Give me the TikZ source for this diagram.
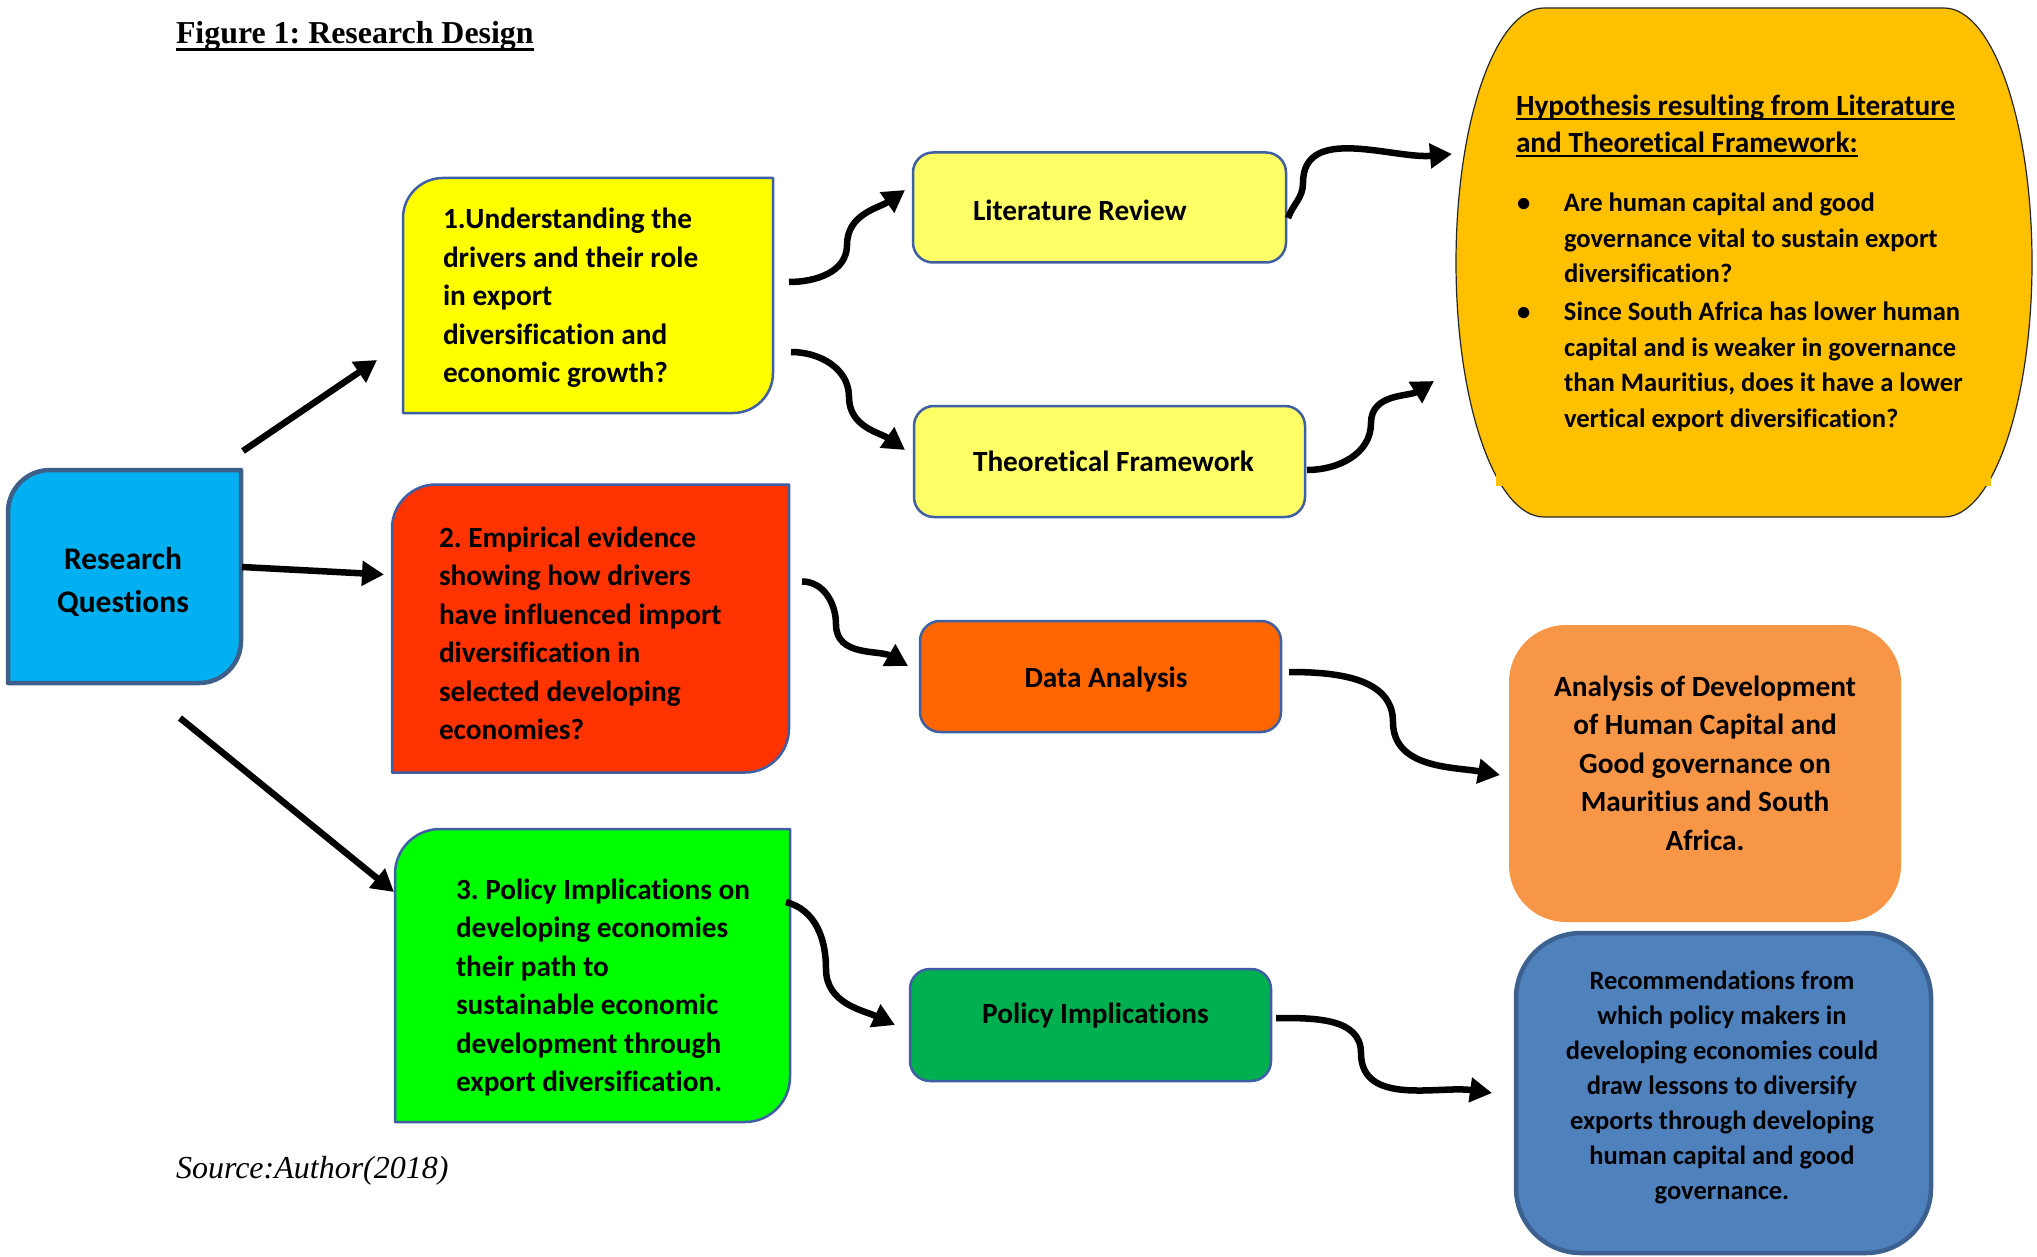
\documentclass[tikz,border=0pt]{standalone}
\usepackage{fontspec}
\setmainfont{Carlito}[Ligatures=NoCommon]
\newfontfamily\timesf{Liberation Serif}
\usetikzlibrary{arrows.meta}
\frenchspacing

\definecolor{rqblue}{HTML}{00B0F0}
\definecolor{rqline}{HTML}{3E5F8A}
\definecolor{bxline}{HTML}{3F5FA5}
\definecolor{ylw}{HTML}{FFFF00}
\definecolor{redbox}{HTML}{FF3300}
\definecolor{grn}{HTML}{00FF00}
\definecolor{lylw}{HTML}{FFFF66}
\definecolor{orng}{HTML}{FF6600}
\definecolor{dgrn}{HTML}{00B050}
\definecolor{gold}{HTML}{FFC000}
\definecolor{lorng}{HTML}{F79646}
\definecolor{steel}{HTML}{4F81BD}
\definecolor{steelline}{HTML}{3C6090}

\newcommand{\ulx}[3]{\leavevmode{\setbox0\hbox{#3}\rlap{\rule[-#1]{\wd0}{#2}}\box0}}
\newcommand{\cutbox}[3]{\path[#3] (#1.north east) -- ([xshift=#2]#1.north west) arc[start angle=90,end angle=180,radius=#2] -- (#1.south west) -- ([xshift=-#2]#1.south east) arc[start angle=270,end angle=360,radius=#2] -- cycle;}
\newcommand{\hypitem}[1]{{\fontsize{26.6}{35.5}\selectfont\hangindent=48pt\hangafter=1 \makebox[48pt][l]{\hspace{1pt}\textbullet}#1\par}}

\begin{document}
\begin{tikzpicture}[x=1pt,y=1pt,
  holder/.style={inner sep=0pt,outer sep=0pt,draw=none},
  mainfont/.style={font=\fontsize{29.3}{38.5}\selectfont\bfseries},
  smallfont/.style={font=\fontsize{26.5}{35}\selectfont\bfseries},
  txt/.style={inner sep=0pt,outer sep=0pt},
  cutline/.style={draw=bxline,line width=2.5pt,line join=round},
  rbox/.style={holder,draw=bxline,line width=2.5pt,rounded corners=20pt},
  arr/.style={line width=6.5pt,-{Triangle[width=24pt,length=22pt]}}
]
\useasboundingbox (0,0) rectangle (2037,-1257);

% ---------- box holders ----------
\node[holder,minimum width=233pt,minimum height=213pt] (rq) at (124.5,-576.5) {};
\node[holder,minimum width=370pt,minimum height=235pt] (b1) at (588,-295.5) {};
\node[holder,minimum width=397pt,minimum height=288pt] (b2) at (590.5,-628.5) {};
\node[holder,minimum width=395pt,minimum height=293pt] (b3) at (592.5,-975.5) {};
\node[holder,minimum width=576pt,minimum height=509pt] (hyp) at (1744,-262.5) {};

% ---------- cut-corner boxes ----------
\cutbox{rq}{42pt}{fill=rqblue,draw=rqline,line width=4.5pt,line join=round}
\cutbox{b1}{40pt}{fill=ylw,cutline}
\cutbox{b2}{44pt}{fill=redbox,cutline}
\cutbox{b3}{45pt}{fill=grn,cutline}

% ---------- rounded boxes ----------
\node[rbox,fill=lylw,minimum width=373pt,minimum height=110pt] (lr) at (1099.5,-207.5) {};
\node[rbox,fill=lylw,minimum width=391pt,minimum height=111pt] (tf) at (1109.5,-461.5) {};
\node[rbox,fill=orng,minimum width=361pt,minimum height=111pt] (da) at (1100.5,-676.5) {};
\node[rbox,fill=dgrn,minimum width=361pt,minimum height=112pt] (pi) at (1090.5,-1025) {};
\node[holder,fill=lorng,rounded corners=57pt,minimum width=392pt,minimum height=297pt] (an) at (1705,-773.5) {};
\node[holder,fill=steel,draw=steelline,line width=4.5pt,rounded corners=65pt,minimum width=415pt,minimum height=320pt] (rec) at (1723.5,-1093) {};

% ---------- hypothesis barrel ----------
\path[fill=gold,draw=black!85,line width=1.2pt]
  ([xshift=88pt]hyp.north west) -- ([xshift=-88pt]hyp.north east)
  arc[start angle=90,end angle=-90,x radius=88pt,y radius=254.5pt]
  -- ([xshift=88pt]hyp.south west)
  arc[start angle=270,end angle=90,x radius=88pt,y radius=254.5pt] -- cycle;
\fill[gold] (1496,-300) rectangle (1991,-486);

% ---------- texts ----------
\node[txt,anchor=base west,font=\timesf\bfseries\fontsize{31.9}{36}\selectfont] (title) at (176,-43.5)
  {\ulx{8pt}{3pt}{Figure 1: Research Design}};
\node[txt,anchor=base west,font=\timesf\itshape\fontsize{32}{36}\selectfont] (src) at (176,-1178)
  {Source:Author(2018)};

\node[txt,align=center,font=\fontsize{31.5}{43}\selectfont\bfseries] (rqt) at (123,-581.5) {Research\\Questions};
\node[txt,mainfont,anchor=west,align=left] (b1t) at (443,-298)
  {1.Understanding the\\drivers and their role\\in export\\diversification and\\economic growth?};
\node[txt,mainfont,anchor=west,align=left] (b2t) at (439,-633.5)
  {2. Empirical evidence\\showing how drivers\\have influenced import\\diversification in\\selected developing\\economies?};
\node[txt,mainfont,anchor=west,align=left] (b3t) at (456,-987.5)
  {3. Policy Implications on\\developing economies\\their path to\\sustainable economic\\development through\\export diversification.};
\node[txt,mainfont,anchor=west] (lrt) at (973,-210) {Literature Review};
\node[txt,mainfont,anchor=west] (tft) at (973,-461.5) {Theoretical Framework};
\node[txt,mainfont] (dat) at (1106,-680) {Data Analysis};
\node[txt,mainfont] (pit) at (1095.5,-1016) {Policy Implications};
\node[txt,mainfont,align=center] (ant) at (1705,-763)
  {Analysis of Development\\of Human Capital and\\Good governance on\\Mauritius and South\\Africa.};
\node[txt,smallfont,align=center] (rect) at (1722,-1087)
  {Recommendations from\\which policy makers in\\developing economies could\\draw lessons to diversify\\exports through developing\\human capital and good\\governance.};
\node[txt,anchor=west] (hypt) at (1516,-263.5)
  {\parbox{480pt}{\bfseries
   {\fontsize{29.3}{37}\selectfont\ulx{4pt}{2pt}{Hypothesis resulting from Literature}\newline\ulx{4pt}{2pt}{and Theoretical Framework:}\par}%
   \vspace{23.5pt}%
   \hypitem{Are human capital and good\newline governance vital to sustain export\newline diversification?}%
   \vspace{2.5pt}%
   \hypitem{Since South Africa has lower human\newline capital and is weaker in governance\newline than Mauritius, does it have a lower\newline vertical export diversification?}}};

% ---------- connectors ----------
\draw[arr] ([shift={(2,19)}]rq.north east) -- ([shift={(-26,53)}]b1.south west);
\draw[arr] ([shift={(1,9.5)}]rq.east) -- ([shift={(-8,54)}]b2.west);
\draw[arr] ([shift={(55.5,-35)}]rq.south) -- ([shift={(-1,-63)}]b3.north west);

\draw[arr] ([shift={(16,13.5)}]b1.east) to[out=0,in=-90] ++(58,37) to[out=90,in=215] ([shift={(-8,17.5)}]lr.west);
\draw[arr] ([shift={(18,-56.5)}]b1.east) to[out=0,in=90] ++(58,-45) to[out=-90,in=145] ([shift={(-9,11.5)}]tf.west);
\draw[arr] ([shift={(2,-10.5)}]lr.east) to[out=70,in=-90] ++(15,35) to[out=90,in=185] ([shift={(-4,108.5)}]hyp.west);
\draw[arr] ([shift={(2,-8.5)}]tf.east) to[out=0,in=-90] ++(64,47) to[out=90,in=212] ([shift={(-22,-118.5)}]hyp.west);
\draw[arr] ([shift={(13,47)}]b2.east) to[out=0,in=90] ++(34,-43) to[out=-90,in=150] ([shift={(-12,10.5)}]da.west);
\draw[arr] ([shift={(8,4.5)}]da.east) to[out=0,in=90] ++(104,-50) to[out=-90,in=170] ([shift={(-9,-1.5)}]an.west);
\draw[arr] ([shift={(-4,73.5)}]b3.east) to[out=-15,in=90] ++(40,-67) to[out=-90,in=155] ([shift={(-15,0)}]pi.west);
\draw[arr] ([shift={(5,7)}]pi.east) to[out=0,in=90] ++(85,-35) to[out=-90,in=172] ([shift={(-24,0)}]rec.west);
\end{tikzpicture}
\end{document}
